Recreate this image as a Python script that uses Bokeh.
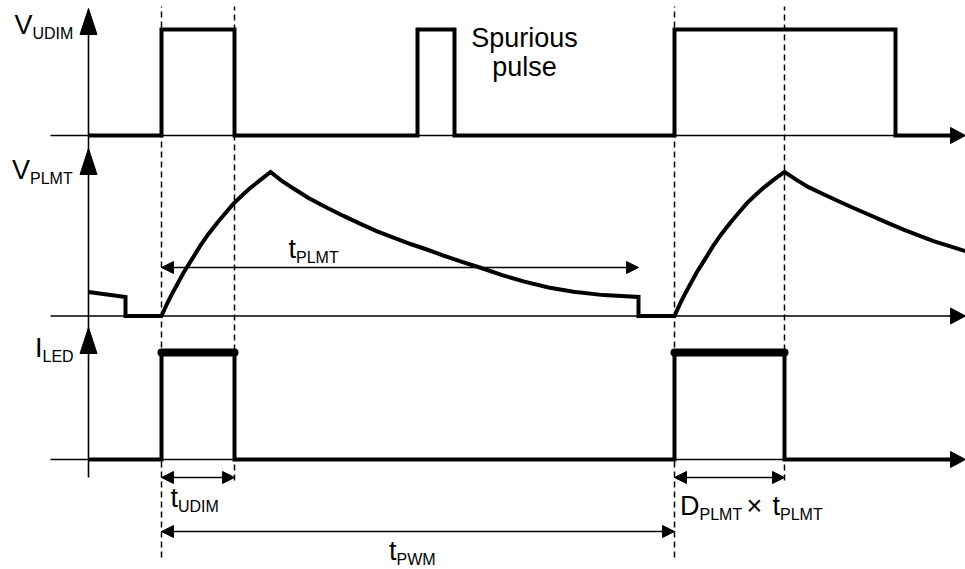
from bokeh.plotting import figure
from bokeh.models import Range1d, Label, Arrow, NormalHead
from bokeh.embed import file_html
from bokeh.resources import INLINE

# ---------------- data (time in arbitrary units, t = 0 at the vertical axis) ----------------
udim_t = [0.0, 7.3, 7.3, 14.6, 14.6, 32.9, 32.9, 36.6, 36.6, 58.6, 58.6, 80.7, 80.7, 86.2]
udim_v = [0, 0, 1, 1, 0, 0, 1, 1, 0, 0, 1, 1, 0, 0]

plmt_t = [0.0, 3.7, 3.7, 7.3,
          7.85, 8.4, 9.5, 10.4, 11.2, 12.0, 12.9, 13.7, 14.5, 15.4, 16.2, 17.2, 18.2,
          19.3, 20.5, 22.0, 23.9, 25.5, 27.2, 28.8, 30.5, 32.2, 33.9, 35.5, 37.2, 39.2,
          41.3, 43.5, 46.0, 48.5, 51.5, 55.0, 55.0, 58.6,
          59.15, 59.7, 60.8, 61.7, 62.5, 63.3, 64.2, 65.0, 65.8, 66.7, 67.5, 68.5, 69.6,
          70.8, 72.0, 73.5, 74.9, 76.5, 78.0, 79.8, 81.5, 83.0, 84.5, 86.1, 87.7]
plmt_v = [0.167, 0.132, 0.0, 0.0,
          0.085, 0.16, 0.30, 0.40, 0.49, 0.57, 0.65, 0.715, 0.78, 0.84, 0.89, 0.945, 1.0,
          0.94, 0.885, 0.82, 0.75, 0.695, 0.64, 0.59, 0.545, 0.50, 0.46, 0.42, 0.38, 0.335,
          0.285, 0.24, 0.198, 0.168, 0.145, 0.132, 0.0, 0.0,
          0.085, 0.16, 0.30, 0.40, 0.49, 0.57, 0.65, 0.715, 0.78, 0.84, 0.89, 0.945, 1.0,
          0.945, 0.895, 0.845, 0.80, 0.75, 0.705, 0.65, 0.60, 0.56, 0.52, 0.485, 0.45]

iled_t = [0.0, 7.3, 7.3, 14.6, 14.6, 58.6, 58.6, 69.6, 69.6, 86.2]
iled_v = [0, 0, 1, 1, 0, 0, 1, 1, 0, 0]
iled_on_start = [7.3, 58.6]
iled_on_end = [14.6, 69.6]

marker_t = [7.3, 14.6, 58.6, 69.6]
t_plmt = (7.3, 55.0)
t_udim = (7.3, 14.6)
t_pwm = (7.3, 58.6)
d_plmt = (58.6, 69.6)

# ---------------- layout helpers ----------------
W, H = 965, 569
X0, X1 = -8.8, 87.7
Y0, Y1 = 0.0, 56.9


def X(px):
    return (px - 88) / 10.0


def Y(py):
    return (569 - py) / 10.0


base = {"udim": Y(135), "plmt": Y(315.5), "iled": Y(459)}
amp = {"udim": 10.6, "plmt": 14.4, "iled": 10.7}
FONT = "Liberation Sans"
MAIN, SUB = 27, 16

p = figure(width=W, height=H, x_range=Range1d(X0, X1), y_range=Range1d(Y0, Y1),
           output_backend="svg", toolbar_location=None, min_border=0,
           x_axis_location=None, y_axis_location=None)
p.grid.visible = False
p.outline_line_color = None
p.background_fill_color = "white"
p.border_fill_color = "white"

# axes (thin lines)
for k in ("udim", "plmt", "iled"):
    p.line([X(50), X1 - 1.0], [base[k], base[k]], line_color="black", line_width=1.6)
    p.patch([X1 - 1.5, X1, X1 - 1.5], [base[k] + 0.8, base[k], base[k] - 0.8],
            fill_color="black", line_color="black", line_width=1)
p.line([0, 0], [Y(477), Y(20)], line_color="black", line_width=1.6)
for tip in (Y(8), Y(148), Y(327)):
    p.patch([-0.85, 0, 0.85], [tip - 2.6, tip, tip - 2.6],
            fill_color="black", line_color="black", line_width=1)

# dashed time markers
p.segment(x0=marker_t, y0=[Y(557), Y(480), Y(557), Y(480)], x1=marker_t, y1=[Y(6)] * 4,
          line_color="black", line_width=1.5, line_dash="6 4")

# waveforms
p.line(udim_t, [base["udim"] + amp["udim"] * v for v in udim_v],
       line_color="black", line_width=4, line_join="miter")
p.line(plmt_t, [base["plmt"] + amp["plmt"] * v for v in plmt_v],
       line_color="black", line_width=4, line_join="miter")
p.line(iled_t, [base["iled"] + amp["iled"] * v for v in iled_v],
       line_color="black", line_width=4, line_join="miter")
hi = base["iled"] + amp["iled"]
p.segment(x0=iled_on_start, y0=[hi] * 2, x1=iled_on_end, y1=[hi] * 2,
          line_color="black", line_width=8, line_cap="round")


# dimension arrows
def dim(x0, x1, y):
    p.add_layout(Arrow(x_start=x0, y_start=y, x_end=x1, y_end=y, line_width=1.5, line_color="black",
                       start=NormalHead(size=12, fill_color="black", line_color="black"),
                       end=NormalHead(size=12, fill_color="black", line_color="black")))


dim(t_plmt[0], t_plmt[1], Y(267))
dim(t_udim[0], t_udim[1], Y(477))
dim(d_plmt[0], d_plmt[1], Y(477))
dim(t_pwm[0], t_pwm[1], Y(531))


def txt(px, py, s, size, align="left"):
    # py is the wanted baseline in picture pixels; lift to compensate the label's own offset
    p.add_layout(Label(x=X(px), y=Y(py - 0.38 * size), text=s, text_font=FONT,
                       text_font_size=f"{size}px", text_color="black", text_align=align,
                       text_baseline="alphabetic"))


def sublabel(px_sub, py_main, main, sub, main_align="right"):
    txt(px_sub, py_main, main, MAIN, align=main_align)
    txt(px_sub, py_main + 4, sub, SUB)


# axis labels
sublabel(32, 35, "V", "UDIM")
sublabel(29.5, 180, "V", "PLMT")
sublabel(42, 358, "I", "LED")

# interval labels
sublabel(295.5, 259, "t", "PLMT")
sublabel(177.5, 508, "t", "UDIM")
sublabel(396, 561, "t", "PWM")
sublabel(699, 516, "D", "PLMT")
txt(746, 516, "×", MAIN)
sublabel(779.5, 516, "t", "PLMT")

# annotation
txt(524, 48, "Spurious", MAIN, align="center")
txt(524, 77, "pulse", MAIN, align="center")

open("out.html", "w").write(file_html(p, INLINE))
